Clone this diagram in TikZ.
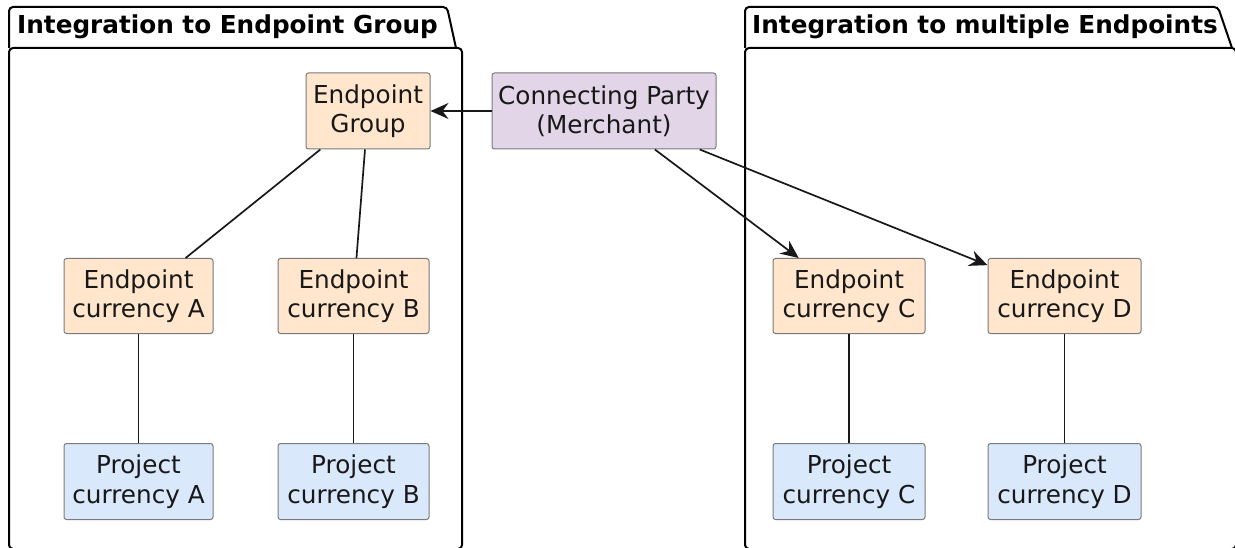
\documentclass[tikz,border=0pt]{standalone}
\usepackage{fontspec}
\setmainfont{DejaVu Sans}
\usetikzlibrary{arrows.meta}
\definecolor{peach}{HTML}{FFE6CC}
\definecolor{lav}{HTML}{E1D5E7}
\definecolor{lblue}{HTML}{DAE8FC}
\definecolor{boxline}{HTML}{7A7A7A}
\definecolor{conn}{HTML}{181818}
\tikzset{
  box/.style={draw=boxline, line width=1pt, rounded corners=2.5pt, align=center,
    inner sep=0pt, minimum height=76pt, font=\fontsize{24.7}{29.4}\selectfont, text=conn},
  ep/.style={box, fill=peach},
  cp/.style={box, fill=lav},
  pc/.style={box, fill=lblue},
  pkg/.style={draw=black, line width=2pt, rounded corners=4pt},
  ttl/.style={font=\fontsize{24.7}{29}\selectfont\bfseries, anchor=west, inner sep=0pt},
  link/.style={draw=conn, line width=1.7pt},
  arr/.style={link, -{Stealth[length=18pt, width=16pt, inset=6pt]}},
}
\begin{document}
\begin{tikzpicture}[x=1pt, y=-1pt]
\useasboundingbox (0,0) rectangle (1235,548);
% packages
\draw[pkg] (9,48) rectangle (462,549);
\draw[pkg] (9,48) -- (9,7) -- (447,7) -- (456,48);
\node[ttl] (t1) at (17,27) {Integration to Endpoint Group};
\draw[pkg] (745,48) rectangle (1236,549);
\draw[pkg] (745,48) -- (745,7) -- (1218,7) -- (1232,48);
\node[ttl] (t2) at (752,27) {Integration to multiple Endpoints};
% nodes
\node[ep, minimum width=124pt] (EG) at (368,111) {Endpoint\\Group};
\node[cp, minimum width=224pt] (CP) at (604,111) {Connecting Party\\(Merchant)};
\node[ep, minimum width=149pt, minimum height=75pt] (ECA) at (138.5,296) {Endpoint\\currency A};
\node[ep, minimum width=151pt, minimum height=75pt] (ECB) at (353.5,296) {Endpoint\\currency B};
\node[ep, minimum width=152pt, minimum height=75pt] (ECC) at (849,296) {Endpoint\\currency C};
\node[ep, minimum width=153pt, minimum height=75pt] (ECD) at (1064.5,296) {Endpoint\\currency D};
\node[pc, minimum width=149pt] (PCA) at (138.5,481.5) {Project\\currency A};
\node[pc, minimum width=151pt] (PCB) at (353.5,481.5) {Project\\currency B};
\node[pc, minimum width=152pt] (PCC) at (849,481.5) {Project\\currency C};
\node[pc, minimum width=153pt] (PCD) at (1064.5,481.5) {Project\\currency D};
% connectors
\draw[arr] (CP) -- (EG);
\draw[arr] (CP) -- (ECC);
\draw[arr] (CP) -- (ECD);
\draw[link] (EG) -- (ECA);
\draw[link] (EG) -- (ECB);
\draw[link] (ECA) -- (PCA);
\draw[link] (ECB) -- (PCB);
\draw[link] (ECC) -- (PCC);
\draw[link] (ECD) -- (PCD);
\end{tikzpicture}
\end{document}
